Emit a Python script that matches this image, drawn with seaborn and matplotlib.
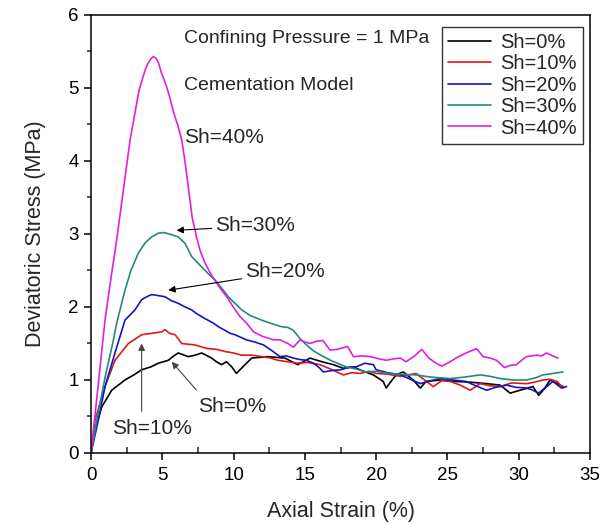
import numpy as np
import pandas as pd
import matplotlib
matplotlib.use("Agg")
import matplotlib.pyplot as plt
from matplotlib.ticker import MultipleLocator
import seaborn as sns

labels = ["Sh=0%", "Sh=10%", "Sh=20%", "Sh=30%", "Sh=40%"]
colors = ["#000000", "#e01818", "#1414c8", "#1f8a7e", "#e020e0"]

x_sh0 = [0, 0.28, 0.75, 1.45, 2.38, 3.0, 3.55, 4.2, 4.72, 5.42, 5.8, 6.12, 6.82, 7.3, 7.76, 8.46, 8.8, 9.16, 9.5, 9.87,
         10.2, 10.8, 11.27, 12.4, 13.6, 14.5, 15.36, 16.2, 17.0, 17.7, 18.4, 19.1, 19.8, 20.5, 20.7, 21.0, 21.4, 21.9,
         22.6, 23.1, 23.5, 24.5, 25.6, 26.6, 27.75, 28.7, 29.4, 30.1, 31.0, 31.4, 31.8, 32.2, 32.7, 33.1]
y_sh0 = [0, 0.32, 0.63, 0.86, 1.00, 1.07, 1.14, 1.18, 1.23, 1.27, 1.33, 1.37, 1.32, 1.34, 1.37, 1.30, 1.25, 1.21, 1.25, 1.18,
         1.09, 1.21, 1.30, 1.32, 1.30, 1.21, 1.30, 1.25, 1.21, 1.16, 1.18, 1.12, 1.07, 0.98, 0.89, 0.97, 1.07, 1.11,
         1.00, 0.89, 0.98, 1.00, 0.98, 0.97, 0.95, 0.93, 0.82, 0.86, 0.91, 0.79, 0.88, 1.00, 0.95, 0.91]

x_sh10 = [0, 0.28, 0.98, 1.68, 2.62, 3.55, 4.3, 4.96, 5.19, 5.5, 5.9, 6.36, 6.8, 7.3, 7.8, 8.2, 8.8, 9.4, 10.0, 10.57,
          11.3, 12.0, 12.6, 13.1, 13.8, 14.5, 15.2, 16.06, 16.8, 17.7, 18.3, 18.9, 19.5, 20.0, 20.8, 21.7, 22.3, 22.8,
          23.4, 24.0, 24.6, 25.2, 25.9, 26.6, 27.3, 28.0, 28.7, 29.5, 30.55, 31.1, 31.7, 32.2, 32.7, 33.1]
y_sh10 = [0, 0.45, 0.91, 1.27, 1.50, 1.62, 1.64, 1.66, 1.69, 1.64, 1.62, 1.50, 1.49, 1.48, 1.45, 1.43, 1.42, 1.39, 1.37, 1.34,
          1.34, 1.32, 1.30, 1.27, 1.25, 1.23, 1.24, 1.21, 1.15, 1.07, 1.10, 1.09, 1.12, 1.09, 1.08, 1.05, 1.07, 1.09,
          1.00, 0.91, 0.99, 0.98, 0.93, 0.86, 0.95, 0.92, 0.91, 0.96, 0.95, 0.97, 1.00, 1.01, 0.98, 0.89]

x_sh20 = [0, 0.51, 0.98, 1.68, 2.38, 3.08, 3.55, 3.9, 4.25, 4.6, 5.19, 5.6, 6.12, 6.5, 7.06, 7.4, 8.0, 8.58, 8.93, 9.4,
          9.75, 10.1, 10.9, 11.5, 12.1, 12.7, 13.25, 13.7, 14.2, 14.66, 15.1, 15.6, 16.0, 16.3, 16.9, 17.5, 18.2, 18.6,
          19.2, 19.8, 20.0, 20.8, 21.7, 22.4, 23.1, 23.8, 24.5, 25.4, 26.3, 27.0, 27.75, 28.4, 29.15, 29.8, 30.55, 31.0,
          31.4, 31.9, 32.4, 33.0, 33.36]
y_sh20 = [0, 0.45, 0.91, 1.37, 1.82, 1.96, 2.10, 2.14, 2.17, 2.16, 2.14, 2.09, 2.05, 2.01, 1.96, 1.91, 1.84, 1.78, 1.73, 1.68,
          1.64, 1.62, 1.55, 1.52, 1.48, 1.40, 1.32, 1.33, 1.30, 1.28, 1.27, 1.23, 1.17, 1.11, 1.13, 1.14, 1.18, 1.18,
          1.23, 1.21, 1.14, 1.10, 1.07, 1.01, 0.95, 0.99, 1.02, 1.00, 0.98, 0.92, 0.86, 0.90, 0.93, 0.90, 0.89, 0.86,
          0.82, 0.90, 0.98, 0.89, 0.91]

x_sh30 = [0, 0.5, 1.0, 1.57, 1.8, 2.38, 2.8, 3.32, 3.8, 4.25, 4.7, 5.07, 5.5, 6.12, 6.6, 7.06, 7.4, 7.76, 8.2, 8.7,
          9.2, 9.63, 10.1, 10.57, 11.2, 11.97, 12.7, 13.37, 13.8, 14.2, 14.6, 15.0, 15.6, 16.2, 16.8, 17.4, 17.9, 18.6,
          19.3, 20.0, 20.5, 21.5, 22.8, 23.8, 25.2, 26.2, 27.3, 28.0, 28.7, 29.6, 30.55, 31.2, 31.7, 32.4, 33.1]
y_sh30 = [0, 0.55, 1.05, 1.55, 1.78, 2.23, 2.50, 2.74, 2.88, 2.96, 3.01, 3.02, 3.00, 2.96, 2.87, 2.69, 2.62, 2.55, 2.46, 2.37,
          2.25, 2.14, 2.05, 1.96, 1.88, 1.82, 1.77, 1.73, 1.72, 1.68, 1.58, 1.50, 1.40, 1.33, 1.27, 1.22, 1.18, 1.15,
          1.11, 1.12, 1.10, 1.08, 1.07, 1.04, 1.02, 1.04, 1.07, 1.05, 1.02, 1.00, 1.00, 1.03, 1.07, 1.09, 1.11]

x_sh40 = [0, 0.5, 0.98, 1.4, 1.8, 2.3, 2.74, 3.1, 3.37, 3.6, 3.8, 4.0, 4.2, 4.37, 4.55, 4.75, 4.95, 5.15, 5.3, 5.55,
          5.8, 6.1, 6.36, 6.6, 6.85, 7.1, 7.41, 7.64, 8.0, 8.35, 8.8, 9.16, 9.6, 9.97, 10.45, 10.9, 11.4, 12.0, 12.8,
          13.25, 13.8, 14.2, 14.66, 15.0, 15.36, 15.8, 16.27, 16.76, 17.3, 18.0, 18.4, 19.0, 19.6, 20.2, 20.7, 21.2, 21.7,
          22.1, 22.7, 23.2, 23.7, 24.2, 24.6, 25.1, 25.6, 26.3, 27.05, 27.5, 28.0, 28.45, 29.0, 29.4, 29.85, 30.2, 30.55,
          31.25, 31.6, 31.95, 32.4, 32.75]
y_sh40 = [0, 0.93, 1.82, 2.40, 2.92, 3.65, 4.29, 4.68, 4.97, 5.12, 5.25, 5.34, 5.40, 5.43, 5.41, 5.33, 5.20, 5.10, 5.02, 4.85,
          4.66, 4.48, 4.29, 3.98, 3.60, 3.22, 2.95, 2.78, 2.60, 2.47, 2.33, 2.23, 2.12, 2.00, 1.87, 1.78, 1.66, 1.60, 1.55,
          1.55, 1.50, 1.45, 1.55, 1.52, 1.50, 1.53, 1.54, 1.41, 1.42, 1.46, 1.32, 1.33, 1.32, 1.29, 1.27, 1.29, 1.30,
          1.25, 1.33, 1.42, 1.30, 1.23, 1.19, 1.24, 1.30, 1.37, 1.43, 1.32, 1.30, 1.27, 1.17, 1.20, 1.21, 1.27, 1.32,
          1.34, 1.33, 1.37, 1.33, 1.30]

xs = [x_sh0, x_sh10, x_sh20, x_sh30, x_sh40]
ys = [y_sh0, y_sh10, y_sh20, y_sh30, y_sh40]

frames = []
for lab, xv, yv in zip(labels, xs, ys):
    frames.append(pd.DataFrame({"strain": xv, "stress": yv, "series": lab}))
df = pd.concat(frames, ignore_index=True)

sns.set_theme(style="ticks")
plt.rcParams["font.family"] = ["Liberation Sans", "DejaVu Sans"]

fig = plt.figure(figsize=(6.11, 5.24), dpi=100)
ax = fig.add_axes([0.149, 0.1355, 0.8166, 0.8359])

sns.lineplot(data=df, x="strain", y="stress", hue="series", hue_order=labels,
             palette=dict(zip(labels, colors)), estimator=None, sort=False,
             linewidth=1.2, ax=ax)

ax.set_xlim(0, 35)
ax.set_ylim(0, 6)
ax.xaxis.set_major_locator(MultipleLocator(5))
ax.xaxis.set_minor_locator(MultipleLocator(2.5))
ax.yaxis.set_major_locator(MultipleLocator(1))
ax.yaxis.set_minor_locator(MultipleLocator(0.5))
ax.tick_params(axis="x", which="major", direction="out", length=5, width=1.1, labelsize=13.5,
               colors="#000000", pad=5)
ax.tick_params(axis="x", which="minor", direction="in", length=4, width=1.1)
ax.tick_params(axis="y", which="major", direction="out", length=5, width=1.1, labelsize=13.5,
               colors="#000000", pad=4)
ax.tick_params(axis="y", which="minor", direction="out", length=3, width=1.1)
for s in ax.spines.values():
    s.set_visible(True)
    s.set_linewidth(1.1)
    s.set_color("#000000")

ax.set_xlabel("Axial Strain (%)", fontsize=15.5, labelpad=12)
ax.set_ylabel("Deviatoric Stress (MPa)", fontsize=15.5, labelpad=16)

ax.text(6.5, 5.68, "Confining Pressure = 1 MPa", fontsize=14, va="center", ha="left")
ax.text(6.5, 5.04, "Cementation Model", fontsize=14, va="center", ha="left")
ax.text(6.5, 4.32, "Sh=40%", fontsize=15, va="center", ha="left")

arrowprops = dict(arrowstyle="-|>", color="#000000", lw=0.8, mutation_scale=10, shrinkA=0, shrinkB=0)
ax.annotate("Sh=30%", xy=(6.0, 3.05), xytext=(8.7, 3.11), fontsize=15, va="center", ha="left",
            arrowprops=arrowprops)
ax.annotate("Sh=20%", xy=(5.42, 2.23), xytext=(10.8, 2.48), fontsize=15, va="center", ha="left",
            arrowprops=arrowprops)
ax.annotate("", xy=(5.66, 1.25), xytext=(7.4, 0.86), arrowprops=dict(arrowprops, color="#444444"))
ax.text(7.5, 0.64, "Sh=0%", fontsize=15, va="center", ha="left")
ax.annotate("", xy=(3.55, 1.50), xytext=(3.55, 0.57), arrowprops=dict(arrowprops, color="#444444"))
ax.text(1.45, 0.34, "Sh=10%", fontsize=15, va="center", ha="left")

leg = ax.legend(loc="upper right", bbox_to_anchor=(0.986, 0.973), fontsize=14.5, frameon=True,
                fancybox=False, edgecolor="#000000", handlelength=2.15, labelspacing=0.12,
                borderpad=0.3, handletextpad=0.45, borderaxespad=0)
leg.get_frame().set_linewidth(1.0)
for line in leg.get_lines():
    line.set_linewidth(1.2)

fig.savefig("out.png", dpi=100)
